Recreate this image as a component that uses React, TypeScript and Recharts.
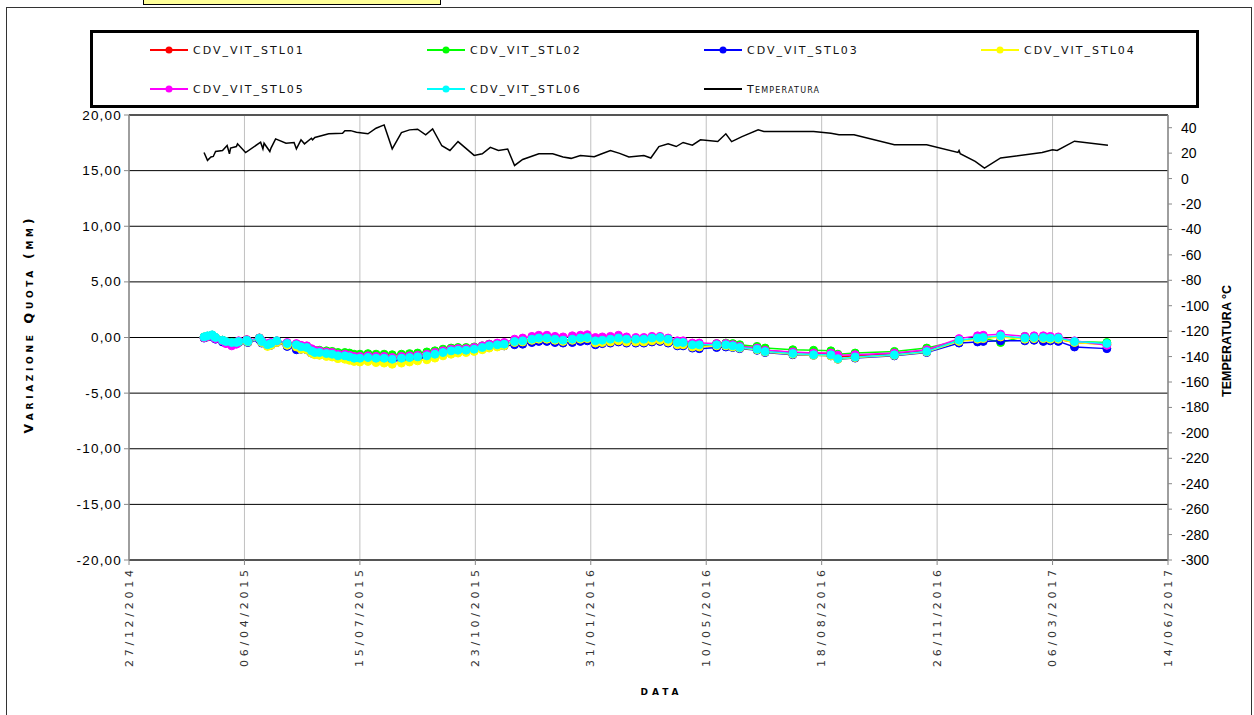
import React from "react";
import {
  LineChart,
  Line,
  XAxis,
  YAxis,
  CartesianGrid,
  Legend,
  ReferenceLine,
} from "recharts";

// giorni dal 27/12/2014 (date delle letture)
const measureDays = [
  65, 68, 72, 74, 75, 81, 84, 89, 93, 95,
  102, 103, 113, 115, 120, 123, 128, 137, 145, 149,
  154, 158, 161, 165, 171, 176, 181, 187, 191, 195,
  200, 207, 214, 221, 228, 236, 243, 250, 258, 265,
  272, 279, 285, 292, 299, 306, 312, 319, 325, 334,
  341, 349, 355, 362, 369, 376, 384, 391, 397, 404,
  410, 417, 424, 431, 439, 446, 453, 460, 467, 475,
  480, 488, 494, 509, 517, 523, 529, 544, 551, 575,
  593, 608, 614, 629, 663, 691, 719, 735, 740, 755,
  776, 784, 792, 798, 805, 819, 847,
];

const stl01 = [
  0.0, 0.1, 0.2, 0.05, -0.05, -0.25, -0.35, -0.45, -0.45, -0.35,
  -0.2, -0.3, -0.05, -0.35, -0.65, -0.55, -0.35, -0.55, -0.65, -0.8,
  -0.85, -1.15, -1.3, -1.3, -1.4, -1.45, -1.6, -1.6, -1.7, -1.8,
  -1.8, -1.75, -1.8, -1.8, -1.9, -1.8, -1.75, -1.7, -1.6, -1.45,
  -1.3, -1.15, -1.1, -1.1, -1.0, -0.85, -0.7, -0.6, -0.55, -0.4,
  -0.35, -0.2, -0.1, -0.1, -0.2, -0.25, -0.2, -0.1, 0.0, -0.45,
  -0.4, -0.3, -0.25, -0.3, -0.3, -0.3, -0.2, -0.15, -0.3, -0.55,
  -0.55, -0.75, -0.75, -0.6, -0.6, -0.7, -0.8, -0.95, -1.15, -1.35,
  -1.4, -1.45, -1.75, -1.65, -1.45, -1.15, -0.3, -0.1, -0.05, 0.1,
  -0.1, -0.05, -0.05, -0.1, -0.15, -0.45, -0.6,
];

const stl02 = [
  0.05, 0.1, 0.2, 0.0, -0.05, -0.25, -0.4, -0.45, -0.45, -0.35,
  -0.25, -0.35, -0.05, -0.35, -0.6, -0.5, -0.3, -0.5, -0.6, -0.75,
  -0.8, -1.05, -1.15, -1.15, -1.2, -1.25, -1.35, -1.35, -1.4, -1.5,
  -1.5, -1.45, -1.5, -1.5, -1.55, -1.5, -1.45, -1.4, -1.3, -1.2,
  -1.05, -0.95, -0.9, -0.9, -0.85, -0.75, -0.6, -0.55, -0.5, -0.45,
  -0.4, -0.25, -0.15, -0.15, -0.25, -0.3, -0.25, -0.15, -0.1, -0.35,
  -0.3, -0.25, -0.15, -0.25, -0.25, -0.25, -0.15, -0.1, -0.25, -0.5,
  -0.5, -0.7, -0.7, -0.55, -0.5, -0.55, -0.65, -0.8, -0.95, -1.1,
  -1.15, -1.2, -1.5, -1.4, -1.25, -0.95, -0.3, -0.1, -0.05, -0.45,
  0.1, 0.05, 0.0, -0.05, -0.1, -0.35, -0.45,
];

const stl03 = [
  -0.05, 0.05, 0.1, -0.05, -0.15, -0.4, -0.5, -0.55, -0.55, -0.45,
  -0.35, -0.45, -0.2, -0.5, -0.75, -0.7, -0.45, -0.8, -1.1, -1.05,
  -1.1, -1.4, -1.5, -1.55, -1.6, -1.65, -1.8, -1.85, -1.9, -2.0,
  -2.0, -1.95, -2.0, -2.0, -2.1, -2.0, -1.95, -1.9, -1.8, -1.65,
  -1.5, -1.35, -1.3, -1.25, -1.15, -1.0, -0.9, -0.8, -0.75, -0.65,
  -0.6, -0.45, -0.35, -0.35, -0.45, -0.5, -0.45, -0.35, -0.3, -0.65,
  -0.55, -0.5, -0.4, -0.5, -0.5, -0.5, -0.4, -0.35, -0.5, -0.75,
  -0.75, -0.95, -1.0, -0.9, -0.85, -0.9, -1.0, -1.15, -1.35, -1.55,
  -1.6, -1.65, -1.95, -1.85, -1.65, -1.35, -0.5, -0.4, -0.35, -0.3,
  -0.3, -0.25, -0.35, -0.3, -0.35, -0.85, -1.0,
];

const stl04 = [
  0.0, 0.1, 0.2, 0.05, -0.05, -0.3, -0.4, -0.5, -0.5, -0.4,
  -0.3, -0.4, -0.1, -0.45, -0.8, -0.7, -0.45, -0.7, -0.85, -1.05,
  -1.1, -1.4, -1.55, -1.6, -1.7, -1.75, -1.9, -1.95, -2.05, -2.15,
  -2.2, -2.15, -2.25, -2.3, -2.4, -2.3, -2.2, -2.1, -2.0, -1.85,
  -1.65, -1.5, -1.4, -1.35, -1.25, -1.1, -0.95, -0.85, -0.75, -0.45,
  -0.4, -0.25, -0.15, -0.15, -0.25, -0.35, -0.25, -0.15, -0.1, -0.5,
  -0.45, -0.4, -0.3, -0.4, -0.4, -0.4, -0.3, -0.25, -0.4, -0.65,
  -0.65, -0.85, -0.85, -0.75, -0.75, -0.85, -0.95, -1.1, -1.3, -1.5,
  -1.6, -1.65, -1.95, -1.8, -1.6, -1.3, -0.35, -0.15, -0.1, 0.05,
  -0.15, -0.1, -0.1, -0.15, -0.15, -0.45, -0.65,
];

const stl05 = [
  0.0, 0.1, 0.15, 0.0, -0.1, -0.3, -0.55, -0.75, -0.6, -0.3,
  -0.2, -0.3, -0.05, -0.3, -0.55, -0.45, -0.3, -0.45, -0.55, -0.7,
  -0.75, -1.0, -1.15, -1.2, -1.3, -1.35, -1.5, -1.5, -1.6, -1.7,
  -1.7, -1.65, -1.7, -1.7, -1.8, -1.7, -1.65, -1.6, -1.5, -1.35,
  -1.2, -1.05, -1.0, -1.0, -0.9, -0.75, -0.6, -0.5, -0.45, -0.15,
  -0.05, 0.1, 0.2, 0.2, 0.1, 0.05, 0.15, 0.2, 0.25, 0.0,
  0.05, 0.1, 0.2, 0.05, 0.0, 0.0, 0.1, 0.1, -0.05, -0.3,
  -0.3, -0.5, -0.5, -0.55, -0.55, -0.65, -0.8, -0.95, -1.15, -1.3,
  -1.4, -1.4, -1.6, -1.55, -1.4, -1.1, -0.1, 0.15, 0.2, 0.3,
  0.1, 0.15, 0.15, 0.1, 0.05, -0.3, -0.7,
];

const stl06 = [
  0.05, 0.15, 0.24, 0.06, 0.0, -0.24, -0.36, -0.45, -0.45, -0.36,
  -0.24, -0.36, -0.06, -0.36, -0.66, -0.54, -0.3, -0.54, -0.66, -0.84,
  -0.9, -1.2, -1.35, -1.35, -1.44, -1.5, -1.65, -1.65, -1.74, -1.86,
  -1.86, -1.8, -1.86, -1.86, -1.95, -1.86, -1.8, -1.74, -1.65, -1.5,
  -1.35, -1.2, -1.14, -1.14, -1.05, -0.9, -0.75, -0.66, -0.6, -0.36,
  -0.3, -0.15, -0.05, -0.05, -0.15, -0.24, -0.15, -0.05, 0.0, -0.3,
  -0.24, -0.15, -0.05, -0.15, -0.15, -0.15, -0.05, 0.0, -0.15, -0.45,
  -0.45, -0.66, -0.66, -0.66, -0.66, -0.75, -0.9, -1.05, -1.26, -1.44,
  -1.55, -1.56, -1.9, -1.75, -1.56, -1.26, -0.24, -0.05, 0.0, 0.15,
  -0.05, 0.0, 0.0, -0.05, -0.05, -0.36, -0.54,
];

// temperatura (asse destro)
const tempDays = [
  65, 68, 71, 73, 75, 81, 85, 87, 88, 93,
  94, 101, 114, 116, 117, 122, 123, 127, 136, 143,
  145, 149, 152, 158, 159, 161, 173, 185, 187, 192,
  197, 207, 214, 221, 228, 236, 243, 250, 257, 263,
  271, 278, 285, 299, 306, 313, 320, 328, 334, 341,
  355, 367, 376, 383, 391, 403, 409, 417, 425, 433,
  446, 452, 459, 467, 474, 480, 488, 495, 510, 517,
  522, 531, 545, 550, 593, 608, 615, 628, 663, 691,
  718, 719, 720, 733, 741, 755, 791, 800, 804, 819,
  848,
];

const tempValues = [
  20.5, 14.3, 17, 17.4, 21.3, 22, 26, 19.5, 24, 25.2,
  27.3, 20.5, 28.6, 23.4, 27.8, 21.3, 24, 31.2, 27.8, 28.4,
  23.4, 30.5, 27.3, 31.7, 30.5, 32.3, 35.2, 35.7, 37.7, 37.7,
  36.4, 35.2, 39.6, 42.2, 23.4, 36.2, 38.3, 38.8, 34.4, 39,
  25.8, 22.1, 29.1, 18.2, 19.5, 24.5, 22.1, 23.2, 10.3, 15,
  19.5, 19.5, 17, 15.9, 18.2, 17.2, 19.3, 22.1, 19.8, 17,
  18.2, 16.2, 25.2, 27.3, 25.2, 28.4, 26.3, 30.5, 29.1, 35.2,
  29.1, 33, 38.3, 37, 37, 35.7, 34.4, 34.4, 26.6, 26.6,
  20.5, 22, 19.5, 13.5, 8.3, 16.2, 20.5, 22.7, 22.1, 29.4,
  26.3,
];

const seriesKeys = ["stl01", "stl02", "stl03", "stl04", "stl05", "stl06"];
const seriesNames = [
  "CDV_VIT_STL01",
  "CDV_VIT_STL02",
  "CDV_VIT_STL03",
  "CDV_VIT_STL04",
  "CDV_VIT_STL05",
  "CDV_VIT_STL06",
];
const seriesColors = ["#ff0000", "#00ff00", "#0000ff", "#ffff00", "#ff00ff", "#00ffff"];

const dateTicks = [0, 100, 200, 300, 400, 500, 600, 700, 800, 900];
const leftTicks = [-20, -15, -10, -5, 0, 5, 10, 15, 20];
const rightTicks = [
  -300, -280, -260, -240, -220, -200, -180, -160, -140, -120, -100, -80, -60,
  -40, -20, 0, 20, 40,
];
const minorTicks = Array.from({ length: 41 }, (_, i) => i - 20);

const measureRows = measureDays.map((day, i) => ({
  day,
  stl01: stl01[i],
  stl02: stl02[i],
  stl03: stl03[i],
  stl04: stl04[i],
  stl05: stl05[i],
  stl06: stl06[i],
}));

const tempRows = tempDays.map((day, i) => ({ day, temperatura: tempValues[i] }));

const WIDE = "'DejaVu Sans', Verdana, sans-serif";
const ARIAL = "'Liberation Sans', Arial, sans-serif";

function formatDate(offset: number) {
  const d = new Date(2014, 11, 27 + offset);
  const dd = String(d.getDate()).padStart(2, "0");
  const mm = String(d.getMonth() + 1).padStart(2, "0");
  return `${dd}/${mm}/${d.getFullYear()}`;
}

const DateTick = ({ x, y, payload }: any) => (
  <text
    x={x}
    y={y}
    transform={`rotate(-90, ${x}, ${y})`}
    textAnchor="end"
    dominantBaseline="central"
    fontSize={11}
    fontFamily={WIDE}
    fill="#333"
    textLength={97}
    lengthAdjust="spacing"
  >
    {formatDate(payload.value)}
  </text>
);

const LeftTick = ({ x, y, payload }: any) => (
  <text
    x={x}
    y={y}
    textAnchor="end"
    dominantBaseline="central"
    fontSize={13.5}
    fontFamily={ARIAL}
    letterSpacing={1.2}
    fill="#000"
  >
    {payload.value.toFixed(2).replace(".", ",")}
  </text>
);

const RightTick = ({ x, y, payload }: any) => (
  <text
    x={x}
    y={y}
    textAnchor="start"
    dominantBaseline="central"
    fontSize={14}
    fontFamily={ARIAL}
    fill="#000"
  >
    {payload.value}
  </text>
);

const LeftTitle = ({ viewBox }: any) => {
  const cx = viewBox.x - 31;
  const cy = 326;
  return (
    <text
      x={cx}
      y={cy}
      transform={`rotate(-90, ${cx}, ${cy})`}
      textAnchor="middle"
      dominantBaseline="central"
      fontSize={12.5}
      fontWeight="bold"
      fontFamily={WIDE}
      textLength={215}
      lengthAdjust="spacing"
      style={{ fontVariant: "small-caps" }}
    >
      Variazione Quota (mm)
    </text>
  );
};

const RightTitle = ({ viewBox }: any) => {
  const cx = viewBox.x + 59;
  const cy = 341;
  return (
    <text
      x={cx}
      y={cy}
      transform={`rotate(-90, ${cx}, ${cy})`}
      textAnchor="middle"
      dominantBaseline="central"
      fontSize={12.5}
      fontWeight="bold"
      fontFamily={ARIAL}
    >
      TEMPERATURA °C
    </text>
  );
};

const BottomTitle = ({ viewBox }: any) => (
  <text
    x={viewBox.x + viewBox.width / 2 + 11}
    y={692}
    textAnchor="middle"
    dominantBaseline="central"
    fontSize={9}
    fontWeight="bold"
    fontFamily={WIDE}
    textLength={38}
    lengthAdjust="spacing"
  >
    DATA
  </text>
);

const renderLegend = ({ payload }: any) => (
  <div
    style={{
      boxSizing: "border-box",
      width: 1109,
      height: 78,
      border: "3px solid #000",
      position: "relative",
      background: "#fff",
    }}
  >
    {(payload || []).map((entry: any, i: number) => {
      const col = i % 4;
      const row = Math.floor(i / 4);
      const isTemp = entry.dataKey === "temperatura";
      return (
        <div
          key={entry.value}
          style={{
            position: "absolute",
            left: 57 + col * 277,
            top: row === 0 ? 9 : 48,
            height: 16,
            display: "flex",
            alignItems: "center",
            whiteSpace: "nowrap",
          }}
        >
          <svg width={38} height={10}>
            <line x1={0} y1={5} x2={38} y2={5} stroke={entry.color} strokeWidth={2} />
            {!isTemp && <circle cx={19} cy={5} r={3.5} fill={entry.color} />}
          </svg>
          <span
            style={{
              marginLeft: 5,
              fontSize: 11,
              letterSpacing: isTemp ? 1.2 : 2,
              fontFamily: WIDE,
              color: "#111",
              fontVariant: isTemp ? "small-caps" : "normal",
            }}
          >
            {entry.value}
          </span>
        </div>
      );
    })}
  </div>
);

export default function App() {
  return (
    <div
      style={{
        position: "absolute",
        left: 0,
        top: 0,
        width: 1254,
        height: 715,
        overflow: "hidden",
        background: "#fff",
        fontFamily: ARIAL,
      }}
    >
      <div
        style={{
          position: "absolute",
          left: 6,
          top: 7,
          width: 1244,
          height: 760,
          border: "1.5px solid #333",
        }}
      />
      <div
        style={{
          position: "absolute",
          left: 143,
          top: -30,
          width: 296,
          height: 33,
          border: "1.5px solid #000",
          background: "#ffff99",
        }}
      />
      <div style={{ position: "absolute", left: 0, top: 0 }}>
        <LineChart
          width={1254}
          height={715}
          margin={{ top: 115, right: 26, bottom: 25, left: 59 }}
        >
          <CartesianGrid
            yAxisId="left"
            horizontal={false}
            vertical
            stroke="#c0c0c0"
            strokeWidth={1}
          />
          <CartesianGrid
            yAxisId="left"
            horizontal
            vertical={false}
            stroke="#000"
            strokeWidth={1}
          />
          <XAxis
            dataKey="day"
            type="number"
            domain={[0, 900]}
            ticks={dateTicks}
            interval={0}
            allowDataOverflow
            height={130}
            tickSize={5}
            tickMargin={5}
            tick={<DateTick />}
            axisLine={{ stroke: "#555", strokeWidth: 2 }}
            tickLine={{ stroke: "#888" }}
            label={<BottomTitle />}
          />
          <YAxis
            yAxisId="minor"
            orientation="left"
            width={0}
            domain={[-20, 20]}
            ticks={minorTicks}
            interval={0}
            tickSize={2.5}
            tickFormatter={() => ""}
            axisLine={false}
            tickLine={{ stroke: "#888" }}
          />
          <YAxis
            yAxisId="left"
            orientation="left"
            width={70}
            domain={[-20, 20]}
            ticks={leftTicks}
            interval={0}
            tickSize={5}
            tickMargin={2}
            tick={<LeftTick />}
            axisLine={{ stroke: "#888", strokeWidth: 1.5 }}
            tickLine={{ stroke: "#888" }}
            label={<LeftTitle />}
          />
          <YAxis
            yAxisId="right"
            orientation="right"
            width={60}
            domain={[-300, 50]}
            ticks={rightTicks}
            interval={0}
            tickSize={4}
            tickMargin={9}
            tick={<RightTick />}
            axisLine={{ stroke: "#888", strokeWidth: 1.5 }}
            tickLine={{ stroke: "#888" }}
            label={<RightTitle />}
          />
          <ReferenceLine yAxisId="left" y={20} stroke="#555" strokeWidth={2} />
          {seriesKeys.map((key, i) => (
            <Line
              key={key}
              yAxisId="left"
              data={measureRows}
              dataKey={key}
              name={seriesNames[i]}
              stroke={seriesColors[i]}
              strokeWidth={1.5}
              dot={{ r: 4, fill: seriesColors[i], stroke: seriesColors[i], strokeWidth: 1 }}
              activeDot={false}
              isAnimationActive={false}
            />
          ))}
          <Line
            yAxisId="right"
            data={tempRows}
            dataKey="temperatura"
            name="Temperatura"
            stroke="#000"
            strokeWidth={1.5}
            dot={false}
            activeDot={false}
            isAnimationActive={false}
          />
          <Legend
            layout="horizontal"
            verticalAlign="middle"
            align="center"
            wrapperStyle={{ top: 30, left: 90, width: 1109, height: 78 }}
            content={renderLegend}
          />
        </LineChart>
      </div>
    </div>
  );
}
